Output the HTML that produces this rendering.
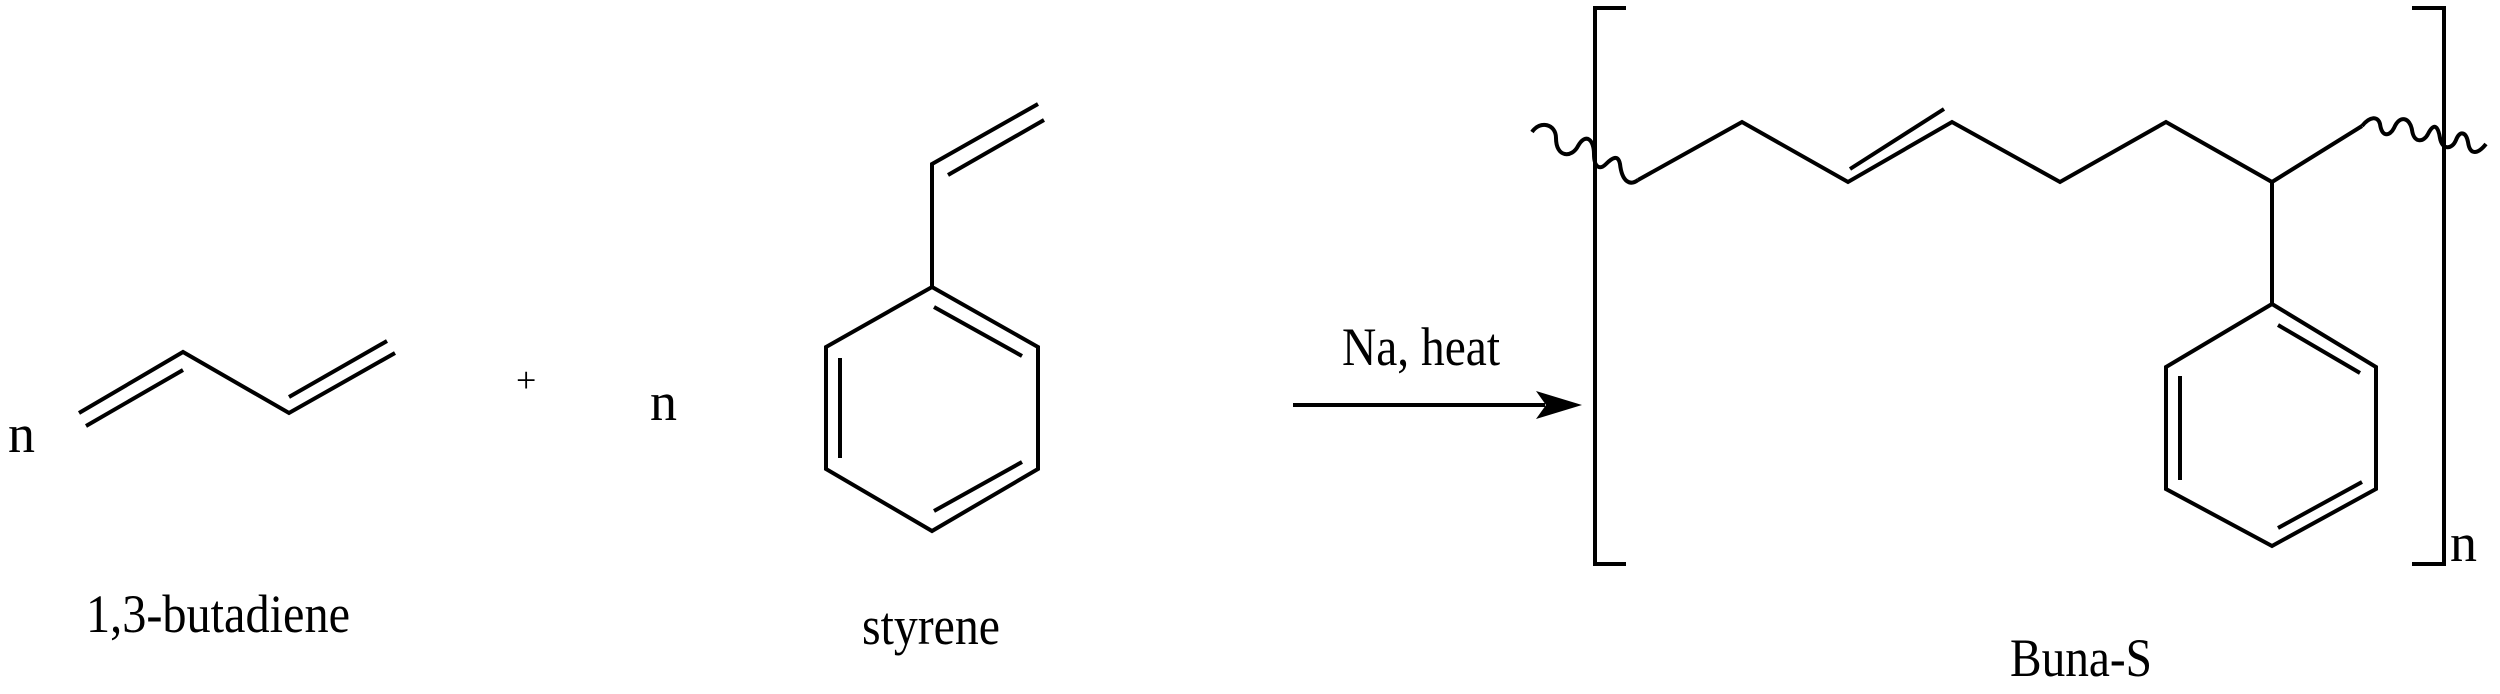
<!DOCTYPE html>
<html><head><meta charset="utf-8"><style>
html,body{margin:0;padding:0;background:#fff;}
svg{display:block;}
text{font-family:"Liberation Serif",serif;fill:#000;}
</style></head><body>
<svg width="2500" height="694" viewBox="0 0 2500 694" xmlns="http://www.w3.org/2000/svg">
<g stroke="#000" stroke-width="4" fill="none" stroke-linecap="butt" stroke-linejoin="miter">
<!-- butadiene -->
<polyline points="79,413 183,352 289,413 395,353"/>
<line x1="86" y1="426" x2="183" y2="370"/>
<line x1="289" y1="397" x2="387" y2="341"/>
<!-- styrene -->
<polyline points="1038,104 932,164 932,287"/>
<line x1="948" y1="175" x2="1044" y2="120"/>
<polygon points="932,287 1038,347 1038,469 932,531 826,469 826,347"/>
<line x1="934" y1="307" x2="1022" y2="356"/>
<line x1="840" y1="358" x2="840" y2="458"/>
<line x1="934" y1="511" x2="1022" y2="462"/>
<!-- arrow -->
<line x1="1293" y1="405" x2="1545" y2="405"/>
<!-- brackets -->
<polyline points="1626,8 1595,8 1595,564 1626,564"/>
<polyline points="2412,8 2444,8 2444,564 2412,564"/>
<!-- chain -->
<polyline points="1638,180 1742,122 1848,182 1952,122 2060,182 2166,122 2272,182 2362,126"/>
<line x1="1850" y1="169" x2="1944" y2="109"/>
<line x1="2272" y1="182" x2="2272" y2="304"/>
<polygon points="2272,304 2376,367 2376,489 2272,546 2166,489 2166,367"/>
<line x1="2278" y1="325" x2="2360" y2="373"/>
<line x1="2180" y1="376" x2="2180" y2="480"/>
<line x1="2278" y1="528" x2="2362" y2="482"/>
<!-- wavy -->
<path d="M1532,132 C1540,120 1556,124 1556,138 C1556,158 1572,158 1578,146 C1586,132 1594,140 1594,154 C1594,168 1600,170 1606,164 C1612,158 1618,154 1620,164 C1622,182 1630,186 1638,180"/>
<path d="M2362,126 C2370,116 2378,116 2380,124 C2382,138 2390,136 2394,128 C2400,114 2410,118 2412,130 C2414,144 2424,142 2428,134 C2434,122 2438,126 2440,138 C2442,150 2452,150 2456,140 C2460,130 2466,132 2468,142 C2470,156 2478,154 2486,144"/>
</g>
<polygon points="1582,405 1536,391 1546,405 1536,419" fill="#000"/>
<g font-size="54">
<text x="8" y="452">n</text>
<text x="516" y="392" font-size="36">+</text>
<text x="650" y="420">n</text>
<text x="86" y="632" textLength="264" lengthAdjust="spacingAndGlyphs">1,3-butadiene</text>
<text x="862" y="644" textLength="138" lengthAdjust="spacingAndGlyphs">styrene</text>
<text x="1342" y="365" textLength="158" lengthAdjust="spacingAndGlyphs">Na, heat</text>
<text x="2450" y="561">n</text>
<text x="2010" y="676" textLength="142" lengthAdjust="spacingAndGlyphs">Buna-S</text>
</g>
</svg>
</body></html>
